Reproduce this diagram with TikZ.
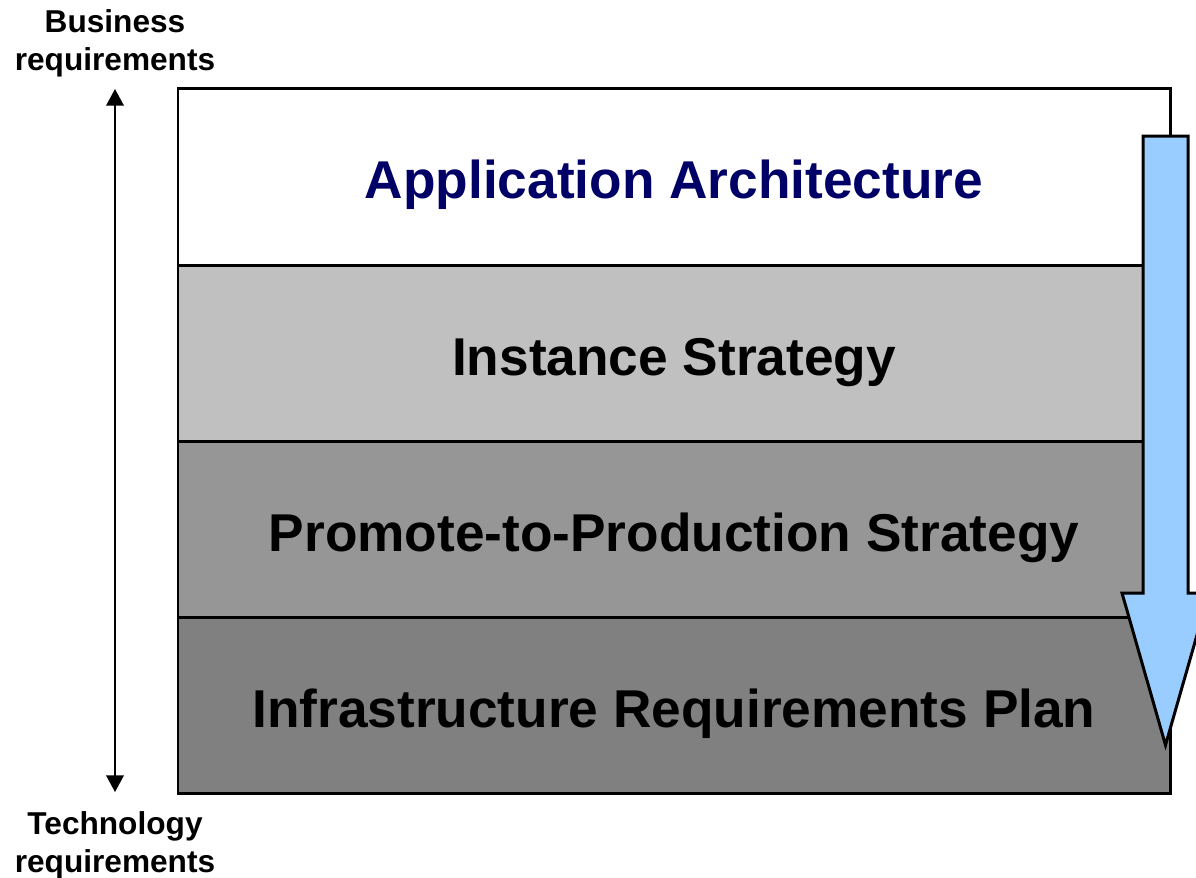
\documentclass[tikz,border=0pt]{standalone}
\usepackage{fontspec}
\setmainfont{Liberation Sans}
\usetikzlibrary{arrows.meta}
\definecolor{archnavy}{HTML}{000066}
\definecolor{lyrlight}{HTML}{C0C0C0}
\definecolor{lyrmid}{HTML}{969696}
\definecolor{lyrdark}{HTML}{808080}
\definecolor{flowblue}{HTML}{99CCFF}
\begin{document}
\begin{tikzpicture}[x=0.02cm,y=-0.02cm,
  layertext/.style={anchor=base,font=\fontsize{30.3}{36}\selectfont\bfseries},
  sidetext/.style={align=center,inner sep=0pt,font=\fontsize{18}{21.5}\selectfont\bfseries}]
 \clip (0,0) rectangle (1196,877);
 % stacked layers
 \fill[white] (178,88) rectangle (1170,265);
 \fill[lyrlight] (178,265) rectangle (1170,441);
 \fill[lyrmid] (178,441) rectangle (1170,617);
 \fill[lyrdark] (178,617) rectangle (1170,793);
 \draw[line width=1.7pt] (178,88) rectangle (1170,793);
 \draw[line width=1.7pt] (178,265)--(1170,265) (178,441)--(1170,441) (178,617)--(1170,617);
 \node[layertext,text=archnavy] (app) at (674,198) {Application Architecture};
 \node[layertext] (inst) at (674,375) {Instance Strategy};
 \node[layertext] (promo) at (674,551) {Promote-to-Production Strategy};
 \node[layertext] (infra) at (674,727) {Infrastructure Requirements Plan};
 % downward flow arrow
 \filldraw[fill=flowblue,line width=1.7pt,line join=miter]
   (1143,136) -- (1188,136) -- (1188,593) -- (1209,593)
   -- (1165.5,745) -- (1122,593) -- (1143,593) -- cycle;
 % business / technology axis
 \node[sidetext] (biz) at (115,43) {Business\\requirements};
 \node[sidetext] (tech) at (115,845) {Technology\\requirements};
 \coordinate (axtop) at (115,89);
 \coordinate (axbot) at (115,792);
 \draw[line width=1.1pt,{Triangle[width=10pt,length=9.5pt]}-{Triangle[width=10pt,length=9.5pt]}]
   (axtop) -- (axbot);
\end{tikzpicture}
\end{document}
